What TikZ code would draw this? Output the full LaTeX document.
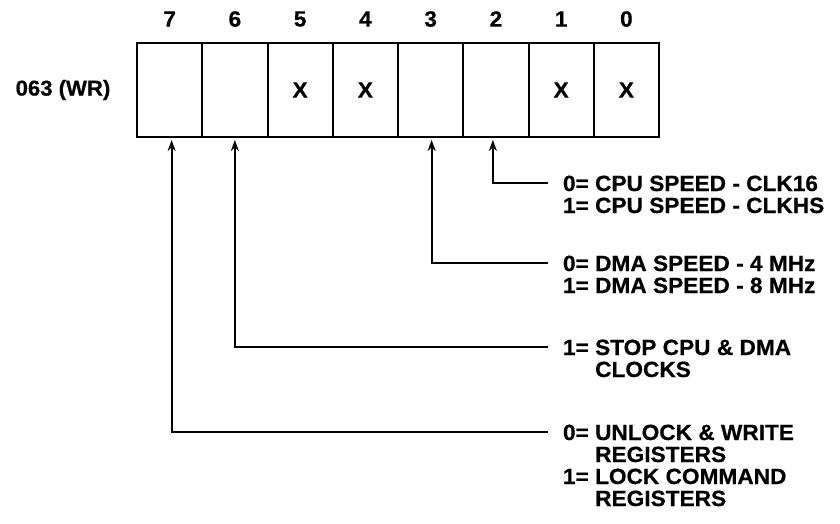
\documentclass[tikz,border=0pt]{standalone}
\usepackage{fontspec}
\newfontfamily\heavy{Liberation Sans Bold}[FakeStretch=1.03, FakeBold=0.6]
\usetikzlibrary{arrows.meta}
\begin{document}
\begin{tikzpicture}[x=1pt,y=-1pt,
  cell/.style={draw, line width=2pt, minimum width=65.25pt, minimum height=94pt,
    inner sep=0pt, outer sep=0pt, font=\heavy\fontsize{22}{25}\selectfont},
  bitnum/.style={inner sep=0pt, font=\heavy\fontsize{22}{25}\selectfont},
  reglabel/.style={inner sep=0pt, font=\heavy\fontsize{21.5}{25}\selectfont},
  desc/.style={anchor=west, inner sep=0pt, outer xsep=15pt, text height=16pt, text depth=0pt,
    font=\heavy\fontsize{22}{25}\selectfont},
  cont/.style={anchor=west, inner sep=0pt, text height=16pt, text depth=0pt,
    font=\heavy\fontsize{22}{25}\selectfont},
  conn/.style={{Stealth[length=11pt,width=8pt]}-, line width=1.8pt, shorten <=3pt}]
\useasboundingbox (0,0) rectangle (840,524);
% register cells
\foreach \b/\t in {7/,6/,5/X,4/X,3/,2/,1/X,0/X}{
  \pgfmathsetmacro\xc{137+65.25*(7-\b)+32.625}
  \node[cell] (c\b) at (\xc,90) {\t};
  \node[bitnum] (n\b) at (\xc,19) {\b};
}
\node[reglabel] (lbl) at (63,90) {063 (WR)};
% descriptions
\node[desc] (t2) at (548,183) {0= CPU SPEED - CLK16};
\node[desc] (t2b) at (548,205) {1= CPU SPEED - CLKHS};
\node[desc] (t3) at (548,263) {0= DMA SPEED - 4 MHz};
\node[desc] (t3b) at (548,285) {1= DMA SPEED - 8 MHz};
\node[desc] (t6) at (548,347) {1= STOP CPU \& DMA};
\node[cont] (t6b) at (595,369) {CLOCKS};
\node[desc] (t7) at (548,432) {0= UNLOCK \& WRITE};
\node[cont] (t7b) at (595,454) {REGISTERS};
\node[desc] (t7c) at (548,476) {1= LOCK COMMAND};
\node[cont] (t7d) at (595,498) {REGISTERS};
% connectors
\draw[conn] ([xshift=-3pt]c2.south) |- (t2.west);
\draw[conn] ([xshift=1pt]c3.south) |- (t3.west);
\draw[conn] (c6.south) |- (t6.west);
\draw[conn] ([xshift=2pt]c7.south) |- (t7.west);
\end{tikzpicture}
\end{document}
